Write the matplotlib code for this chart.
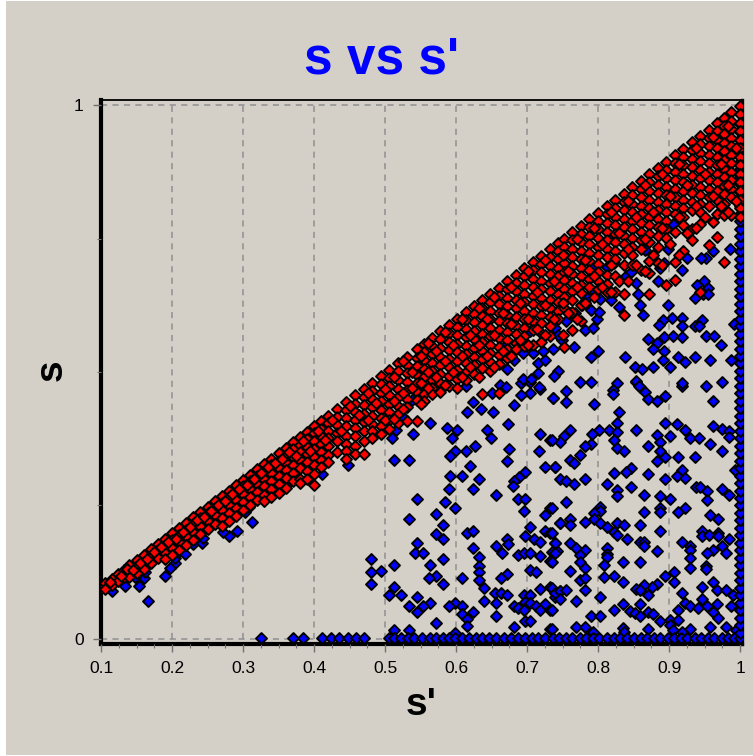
#!/usr/bin/env python3
"""s vs s' scatter, blue points behind the red band."""

import matplotlib
matplotlib.use("Agg")
import matplotlib.pyplot as plt
from matplotlib.patches import Rectangle
from matplotlib.ticker import MultipleLocator

BG = "#D4D0C8"

x_ticks = [0.1, 0.2, 0.3, 0.4, 0.5, 0.6, 0.7, 0.8, 0.9, 1.0]
x_tick_labels = ["0.1", "0.2", "0.3", "0.4", "0.5", "0.6", "0.7", "0.8", "0.9", "1"]
y_ticks = [0, 1]
y_tick_labels = ["0", "1"]

# points on the s = 0 floor
blue_floor_sp = [0.326, 0.371, 0.385, 0.411, 0.424, 0.435, 0.448, 0.459, 0.470,
                 0.505, 0.513, 0.522, 0.532, 0.541, 0.552, 0.563, 0.572, 0.582, 0.590, 0.599,
                 0.608, 0.618, 0.628, 0.637, 0.647, 0.657, 0.667, 0.677, 0.687, 0.697, 0.707,
                 0.716, 0.726, 0.736, 0.745, 0.755, 0.764, 0.774, 0.783, 0.793, 0.802, 0.812,
                 0.822, 0.831, 0.841, 0.850, 0.860, 0.869, 0.879, 0.888, 0.898, 0.907, 0.917,
                 0.926, 0.936, 0.945, 0.955, 0.964, 0.974, 0.983, 0.992, 1.0]

# points on the s' = 1 edge
blue_edge_s = [0.012, 0.026, 0.04, 0.054, 0.068, 0.082, 0.096, 0.11, 0.124, 0.138, 0.152,
               0.166, 0.18, 0.194, 0.208, 0.222, 0.236, 0.25, 0.264, 0.278, 0.292, 0.306,
               0.32, 0.334, 0.348, 0.362, 0.376, 0.39, 0.404, 0.418, 0.432, 0.446, 0.46,
               0.474, 0.488, 0.502, 0.516, 0.53, 0.544, 0.558, 0.572, 0.586, 0.6, 0.614,
               0.628, 0.642, 0.656, 0.67, 0.684, 0.698, 0.712, 0.726, 0.74, 0.754, 0.768,
               0.782, 0.796, 0.81, 0.824, 0.838, 0.852, 0.866, 0.88, 0.894, 0.908, 0.922,
               0.936, 0.95, 0.964]

blue_left = [
    (.115, .090), (.134, .099), (.153, .100), (.161, .114), (.148, .116), (.162, .126),
    (.166, .072), (.190, .118), (.204, .142), (.204, .151), (.209, .162), (.218, .159),
    (.197, .132), (.230, .178), (.242, .179), (.243, .189), (.280, .192), (.291, .203),
    (.272, .201), (.282, .225), (.312, .220), (.303, .238), (.308, .247), (.411, .309),
    (.448, .326), (.366, .295), (.538, .448), (.526, .416),
]

blue_mid = [
    (.614, .473), (.651, .461), (.662, .476), (.670, .471), (.624, .443), (.616, .426),
    (.635, .430), (.652, .426), (.681, .438), (.692, .479), (.704, .482), (.704, .461),
    (.692, .457), (.718, .468), (.736, .451), (.563, .405), (.515, .391), (.539, .384),
    (.510, .376), (.588, .395), (.601, .391), (.595, .376), (.643, .391), (.649, .376),
    (.673, .402), (.718, .384), (.733, .373), (.627, .362), (.598, .352), (.591, .343),
    (.614, .352), (.675, .355), (.717, .352), (.512, .335), (.534, .335), (.672, .333),
    (.620, .324), (.726, .323), (.739, .323), (.592, .305), (.608, .305), (.633, .299),
    (.624, .281), (.697, .313), (.689, .303), (.681, .295), (.680, .287), (.590, .281),
    (.656, .270), (.545, .263), (.585, .257), (.598, .245), (.688, .263), (.697, .263),
    (.696, .239), (.733, .246), (.726, .232), (.572, .234), (.534, .224), (.582, .213),
    (.746, .217), (.704, .210), (.572, .196), (.582, .188), (.616, .199), (.624, .203),
    (.697, .193), (.726, .203), (.733, .199), (.710, .188), (.718, .181), (.739, .179),
    (.672, .187), (.673, .178), (.656, .175), (.624, .171), (.545, .179), (.542, .161),
    (.553, .161), (.633, .153), (.665, .161), (.687, .157), (.696, .161), (.704, .161),
    (.718, .156), (.735, .162), (.742, .164), (.733, .146), (.480, .150), (.512, .139),
    (.563, .139), (.582, .150), (.480, .125), (.494, .128), (.633, .136), (.633, .125),
    (.704, .129), (.713, .125), (.672, .122), (.664, .114), (.572, .118), (.562, .114),
    (.608, .114), (.633, .111), (.480, .103), (.582, .103), (.640, .096), (.512, .097),
    (.505, .083), (.523, .083), (.545, .078), (.718, .093), (.733, .098), (.746, .089),
    (.640, .072), (.655, .086), (.664, .086), (.672, .083), (.656, .068), (.696, .083),
    (.704, .083), (.697, .070), (.704, .067), (.739, .079), (.563, .068), (.553, .061),
    (.534, .061), (.545, .050), (.598, .068), (.590, .061), (.608, .061), (.624, .050),
    (.608, .046), (.616, .037), (.616, .025), (.656, .043), (.572, .029), (.681, .061),
    (.688, .058), (.696, .054), (.713, .061), (.718, .054), (.726, .066), (.733, .054),
    (.697, .033), (.704, .033), (.681, .022), (.733, .019), (.512, .016), (.534, .016),
    (.598, .012),
]

blue_right = [
    (.774, .482), (.790, .482), (.755, .465), (.737, .451), (.755, .443), (.794, .440),
    (.827, .479), (.821, .466), (.821, .459), (.854, .482), (.859, .471), (.866, .463),
    (.870, .450), (.883, .446), (.894, .455), (.918, .473), (.952, .473), (.974, .482),
    (.962, .446), (.830, .426), (.827, .405), (.894, .405), (.911, .402), (.962, .398),
    (.974, .393), (.985, .390), (.801, .391), (.815, .391), (.827, .387), (.791, .384),
    (.761, .391), (.752, .380), (.746, .368), (.735, .373), (.854, .391), (.923, .391),
    (.883, .382), (.901, .380), (.929, .376), (.942, .376), (.985, .379), (.888, .368),
    (.822, .373), (.790, .366), (.781, .362), (.958, .366), (.870, .362), (.827, .358),
    (.836, .352), (.888, .352), (.974, .352), (.774, .345), (.761, .335), (.766, .329),
    (.894, .340), (.883, .333), (.912, .340), (.936, .340), (.739, .323), (.846, .320),
    (.839, .312), (.822, .310), (.870, .309), (.918, .317), (.911, .305), (.923, .301),
    (.993, .317), (.746, .299), (.755, .295), (.766, .290), (.782, .299), (.894, .299),
    (.813, .290), (.846, .284), (.827, .279), (.827, .268), (.865, .270), (.938, .285),
    (.943, .284), (.953, .278), (.974, .281), (.985, .270), (.888, .268), (.901, .263),
    (.953, .260), (.755, .257), (.735, .245), (.803, .248), (.803, .239), (.794, .235),
    (.888, .245), (.888, .237), (.865, .237), (.923, .245), (.912, .237), (.958, .232),
    (.969, .224), (.794, .224), (.782, .220), (.761, .224), (.761, .214), (.746, .217),
    (.803, .217), (.813, .210), (.827, .217), (.836, .214), (.859, .214), (.822, .200),
    (.827, .195), (.841, .188), (.888, .203), (.947, .203), (.969, .199), (.947, .192),
    (.957, .195), (.969, .192), (.985, .188), (.735, .199), (.859, .181), (.865, .181),
    (.865, .175), (.918, .181), (.929, .175), (.739, .179), (.761, .179), (.769, .170),
    (.782, .167), (.813, .170), (.813, .159), (.883, .164), (.974, .175), (.962, .167),
    (.953, .161), (.980, .161), (.774, .157), (.929, .167), (.739, .161), (.735, .145),
    (.813, .153), (.774, .145), (.835, .145), (.859, .145), (.929, .151), (.808, .139),
    (.952, .137), (.761, .128), (.782, .132), (.929, .132), (.952, .131), (.907, .126),
    (.894, .118), (.808, .117), (.822, .118), (.774, .111), (.782, .114), (.835, .107),
    (.907, .107), (.883, .103), (.876, .098), (.865, .101), (.962, .107), (.947, .097),
    (.967, .092), (.980, .091), (.735, .095), (.739, .086), (.746, .089), (.755, .091),
    (.782, .091), (.853, .093), (.859, .091), (.870, .083), (.918, .086), (.990, .083),
    (.746, .074), (.769, .072), (.803, .078), (.947, .074), (.859, .066), (.835, .066),
    (.922, .067), (.967, .066), (.988, .061), (.735, .054), (.822, .054), (.929, .061),
    (.941, .058), (.953, .061), (.962, .051), (.912, .054), (.845, .053), (.852, .048),
    (.859, .043), (.870, .050), (.878, .046), (.790, .043), (.803, .043), (.969, .040),
    (.901, .036), (.888, .033), (.913, .036), (.901, .026), (.769, .022), (.782, .023),
    (.870, .019), (.835, .020), (.958, .022), (.980, .022), (.929, .019), (.793, .014),
    (.906, .017), (.918, .014), (.735, .019), (.836, .014), (.995, .017),
]

blue_top = [
    (.986, .731), (.962, .727), (.952, .713), (.945, .713), (.899, .731), (.926, .713),
    (.893, .704), (.887, .695), (.918, .691), (.885, .671), (.949, .671), (.939, .663),
    (.955, .657), (.948, .646), (.937, .638), (.955, .646), (.899, .626), (.857, .646),
    (.859, .626), (.864, .607), (.854, .667), (.840, .679), (.846, .688), (.892, .597),
    (.886, .588), (.904, .601), (.918, .601), (.918, .586), (.946, .597), (.937, .586),
    (.942, .586), (.991, .589), (.870, .561), (.883, .554), (.893, .565), (.906, .568),
    (.918, .565), (.952, .568), (.963, .568), (.973, .551), (.878, .543), (.893, .540),
    (.800, .540), (.790, .529), (.838, .529), (.891, .523), (.912, .529), (.923, .518),
    (.937, .529), (.958, .523), (.988, .523), (.852, .509), (.862, .505), (.878, .509),
    (.901, .509), (.853, .484), (.858, .473), (.918, .479), (.744, .501), (.738, .493),
    (.716, .499), (.694, .486), (.705, .486), (.717, .471), (.672, .505), (.681, .523),
    (.664, .532), (.716, .516), (.725, .523), (.723, .540), (.737, .544), (.766, .546),
    (.709, .535), (.749, .560), (.739, .582), (.744, .569), (.782, .579), (.793, .582),
    (.755, .596), (.798, .599), (.830, .621), (.818, .635), (.803, .636), (.791, .654),
    (.785, .638), (.782, .629), (.777, .626), (.790, .616), (.801, .613), (.768, .610),
    (.760, .611), (.750, .642), (.822, .704), (.812, .697), (.791, .694), (.817, .757),
    (.906, .778), (.866, .728), (.704, .576), (.695, .535), (.669, .548),
]

# red band, one entry per s' column with the s values seen there
red_low = [
    (.100, [.096]), (.106, [.104, .094]), (.115, [.113, .102]), (.124, [.122, .109]),
    (.132, [.130, .116]), (.140, [.138, .126, .116]), (.150, [.148, .135, .124]),
    (.160, [.158, .145, .131]), (.170, [.168, .155, .142]), (.180, [.178, .166, .151]),
    (.190, [.188, .175, .161, .149]), (.200, [.198, .186, .171, .157]),
    (.210, [.208, .195, .181, .166]), (.220, [.218, .205, .192, .176]),
    (.230, [.228, .215, .201, .186]), (.240, [.238, .226, .212, .197]),
    (.250, [.248, .235, .221, .206]), (.260, [.258, .246, .232, .216]),
    (.270, [.268, .255, .241, .226, .212]), (.280, [.278, .265, .251, .236, .221]),
    (.290, [.288, .273, .260, .246, .230]), (.300, [.298, .286, .271, .256, .241]),
    (.310, [.308, .295, .281, .265, .250]), (.320, [.318, .305, .291, .276, .261]),
    (.330, [.328, .315, .300, .286, .270, .258]), (.340, [.338, .325, .311, .296, .281, .266]),
    (.350, [.348, .334, .320, .305, .290, .274]), (.360, [.358, .345, .330, .316, .301, .283]),
    (.370, [.368, .355, .340, .325, .310, .296]), (.380, [.378, .364, .350, .335, .320, .300, .292]),
    (.390, [.388, .375, .360, .346, .331, .315, .300]),
    (.400, [.398, .385, .370, .355, .340, .325, .309, .289]),
    (.410, [.408, .394, .380, .365, .350, .336, .322]),
    (.420, [.418, .405, .390, .376, .361, .345, .331]),
    (.432, [.430, .416, .400, .386, .371, .351]),
    (.445, [.443, .428, .413, .398, .381, .366, .352, .338]),
    (.458, [.456, .441, .426, .410, .395, .380, .362, .347]),
    (.470, [.468, .453, .438, .422, .406, .390, .370, .346]),
    (.482, [.480, .465, .450, .434, .418, .402, .390, .376]),
    (.494, [.492, .477, .461, .445, .429, .413, .398, .384]),
]

red_mid = [
    (.506, [.504, .489, .473, .457, .441, .425, .410, .394]),
    (.518, [.516, .501, .485, .469, .453, .437, .421, .405]),
    (.531, [.529, .514, .498, .482, .466, .450, .434, .409]),
    (.545, [.543, .527, .511, .495, .479, .463, .447, .409]),
    (.555, [.553, .538, .522, .506, .490, .474, .458, .446]),
    (.566, [.564, .549, .533, .517, .501, .485, .470, .458]),
    (.578, [.576, .561, .545, .529, .513, .497, .480, .463]),
    (.590, [.588, .573, .557, .541, .525, .509, .492, .473]),
    (.602, [.600, .585, .569, .553, .537, .521, .504, .487, .470]),
    (.614, [.612, .597, .581, .565, .549, .533, .517, .500, .485]),
    (.626, [.624, .609, .593, .577, .561, .545, .529, .513, .497]),
    (.637, [.635, .620, .604, .588, .572, .556, .540, .524, .508, .459]),
    (.648, [.646, .631, .615, .599, .583, .567, .551, .535, .519, .502]),
    (.660, [.658, .643, .627, .611, .595, .579, .563, .547, .531, .515, .460]),
    (.672, [.670, .655, .639, .623, .607, .591, .575, .559, .543, .527]),
    (.684, [.682, .667, .651, .635, .619, .603, .587, .571, .555, .544]),
    (.696, [.694, .679, .663, .647, .631, .615, .599, .583, .567, .548]),
    (.708, [.706, .691, .675, .659, .643, .627, .611, .595, .579, .551]),
    (.720, [.718, .703, .687, .671, .655, .639, .623, .607, .591, .573, .557]),
    (.732, [.730, .715, .699, .683, .667, .651, .635, .619, .603, .587, .568]),
    (.744, [.742, .727, .711, .695, .679, .663, .647, .631, .615, .599]),
    (.752, [.750, .735, .720, .704, .688, .672, .656, .640, .620, .546]),
]

red_high = [
    (.764, [.762, .747, .731, .715, .699, .683, .667, .651, .635, .612, .579]),
    (.776, [.774, .759, .743, .727, .711, .695, .679, .663, .648, .625, .596]),
    (.788, [.786, .771, .755, .739, .723, .707, .691, .675, .660]),
    (.800, [.798, .783, .767, .751, .735, .719, .703, .687, .671, .655]),
    (.812, [.810, .795, .779, .763, .747, .731, .715, .681, .665, .650]),
    (.824, [.822, .807, .791, .775, .759, .743, .727, .711, .680, .650]),
    (.836, [.834, .819, .803, .787, .771, .755, .739, .723, .700, .646, .607]),
    (.848, [.846, .831, .815, .799, .783, .767, .751, .735, .720, .700]),
    (.860, [.858, .843, .827, .811, .795, .779, .763, .747, .731, .691]),
    (.872, [.870, .855, .839, .823, .807, .791, .775, .759, .743, .708, .685, .646]),
    (.884, [.882, .867, .851, .835, .819, .803, .787, .771, .755, .735, .704]),
    (.896, [.894, .879, .863, .847, .831, .815, .799, .783, .767, .751, .663]),
    (.908, [.906, .891, .875, .859, .843, .827, .811, .795, .762, .706, .673]),
    (.920, [.918, .903, .887, .871, .855, .839, .823, .807, .791, .775, .727]),
    (.932, [.930, .915, .899, .883, .867, .851, .835, .819, .803, .767, .748]),
    (.944, [.942, .927, .911, .895, .879, .863, .847, .831, .815, .799, .778, .650]),
    (.956, [.954, .939, .923, .907, .891, .875, .859, .843, .827, .811, .738]),
    (.968, [.966, .951, .935, .919, .903, .887, .871, .855, .839, .823, .796, .752]),
    (.978, [.976, .961, .945, .929, .913, .897, .881, .865, .849, .833, .815, .794, .706]),
    (.988, [.986, .971, .955, .939, .923, .907, .891, .875, .859, .843, .827, .794]),
    (1.0, [.998, .983, .967, .951, .935, .919, .903, .887, .871, .855, .839, .823, .807, .791]),
]

# loose points between the columns
red_extra = [
    (.112, [.107]), (.128, [.118]), (.136, [.131]), (.145, [.130]), (.155, [.142]),
    (.165, [.150]), (.175, [.162]), (.185, [.172]), (.195, [.182]), (.205, [.188]),
    (.215, [.200]), (.225, [.210]), (.235, [.222]), (.245, [.229]), (.255, [.240]),
    (.265, [.250]), (.275, [.258]), (.285, [.271]), (.295, [.280]), (.305, [.289]),
    (.315, [.300]), (.325, [.310]), (.335, [.322]), (.345, [.330]), (.355, [.338]),
    (.365, [.350]), (.375, [.342]), (.385, [.370]), (.395, [.352]), (.405, [.390]),
    (.415, [.372]), (.425, [.410]), (.438, [.390]), (.450, [.436]), (.463, [.420]),
    (.476, [.460, .410]), (.488, [.442]), (.500, [.468, .410]), (.512, [.490, .445, .412]),
    (.525, [.520, .460, .430]), (.538, [.500, .470]), (.550, [.530, .480, .440]),
    (.560, [.555, .500, .470]), (.572, [.540, .490]), (.584, [.575, .520, .475]),
    (.596, [.550, .500]), (.608, [.600, .530, .490]), (.620, [.570, .510]),
    (.632, [.620, .550, .490]), (.643, [.600, .530]), (.654, [.640, .570, .510]),
    (.666, [.610, .540]), (.678, [.660, .590, .530]), (.690, [.630, .560]),
    (.702, [.690, .600, .550]), (.714, [.650, .580]), (.726, [.710, .625, .570]),
    (.738, [.670, .600]), (.750, [.720, .630, .570]), (.758, [.690, .610]),
    (.770, [.750, .660, .600]), (.782, [.710, .630]), (.794, [.770, .680, .640]),
    (.806, [.740, .660]), (.818, [.800, .700, .650]), (.830, [.760, .670]),
    (.842, [.820, .730, .670]), (.854, [.790, .700]), (.866, [.850, .750, .690]),
    (.878, [.800, .720]), (.890, [.870, .770, .700]), (.902, [.830, .740]),
    (.914, [.890, .790, .720]), (.926, [.850, .760]), (.938, [.920, .810, .770]),
    (.950, [.870, .790]), (.962, [.940, .830, .780]), (.973, [.890, .810]),
    (.983, [.960, .850, .800]), (.994, [.920, .820]),
]

W, H = 753, 756

fig = plt.figure(figsize=(W / 100, H / 100), dpi=100, facecolor="white")
fig.patches.append(Rectangle((6 / W, 1 / H), (W - 6) / W, (H - 2) / H,
                             transform=fig.transFigure, facecolor=BG, edgecolor="none", zorder=-10))

ax = fig.add_axes([101 / W, 1 - 644 / H, 641 / W, 544 / H])
ax.set_facecolor(BG)
ax.set_xlim(0.1, 1.0028)
ax.set_ylim(-0.0094, 1.0094)

ax.vlines(x_ticks[1:-1], 0, 1, color="#8f8f8f", lw=1.1, ls=(0, (4, 3.5)), zorder=1)
ax.hlines([0, 1], 0.1, 1.0, color="#8f8f8f", lw=1.1, ls=(0, (4, 3.5)), zorder=1)

marker = dict(marker="D", s=31, edgecolors="black", linewidths=1.4)

blue_pts = blue_left + blue_mid + blue_right + blue_top
ax.scatter([p[0] for p in blue_pts], [p[1] for p in blue_pts], c="#0000FF", zorder=2, **marker)
ax.scatter(blue_floor_sp, [0.001] * len(blue_floor_sp), c="#0000FF", zorder=2, **marker)
ax.scatter([1.0] * len(blue_edge_s), blue_edge_s, c="#0000FF", zorder=2, **marker)

red_sp, red_s = [], []
for sp, vals in red_low + red_mid + red_high + red_extra:
    for v in vals:
        red_sp.append(sp)
        red_s.append(v)
ax.scatter(red_sp, red_s, c="#FF0000", zorder=3, **marker)

ax.spines["left"].set_linewidth(3.0)
ax.spines["bottom"].set_linewidth(3.0)
ax.spines["right"].set_linewidth(2.4)
ax.spines["top"].set_linewidth(1.3)
for sp in ax.spines.values():
    sp.set_zorder(1.5)

ax.set_xticks(x_ticks)
ax.set_xticklabels(x_tick_labels, family="Liberation Sans", fontsize=12.5)
ax.xaxis.set_minor_locator(MultipleLocator(0.025))
ax.set_yticks(y_ticks)
ax.set_yticklabels(y_tick_labels, family="Liberation Sans", fontsize=12.5)
ax.yaxis.set_minor_locator(MultipleLocator(0.25))
ax.tick_params(axis="both", which="major", length=5.5, width=1.0, color="#707070", pad=7)
ax.tick_params(axis="both", which="minor", length=3, width=0.8, color="#707070")

fig.text(382 / W, 1 - 60 / H, "s vs s'", color="#0000FF", family="Liberation Sans",
         fontweight="bold", fontsize=37, ha="center", va="center")
fig.text(421 / W, 1 - 705 / H, "s'", color="black", family="Liberation Sans",
         fontweight="bold", fontsize=28, ha="center", va="center")
fig.text(52 / W, 1 - 370 / H, "s", color="black", family="Liberation Sans",
         fontweight="bold", fontsize=28, rotation=90, ha="center", va="center")

fig.savefig("out.png", dpi=100, facecolor=fig.get_facecolor())
